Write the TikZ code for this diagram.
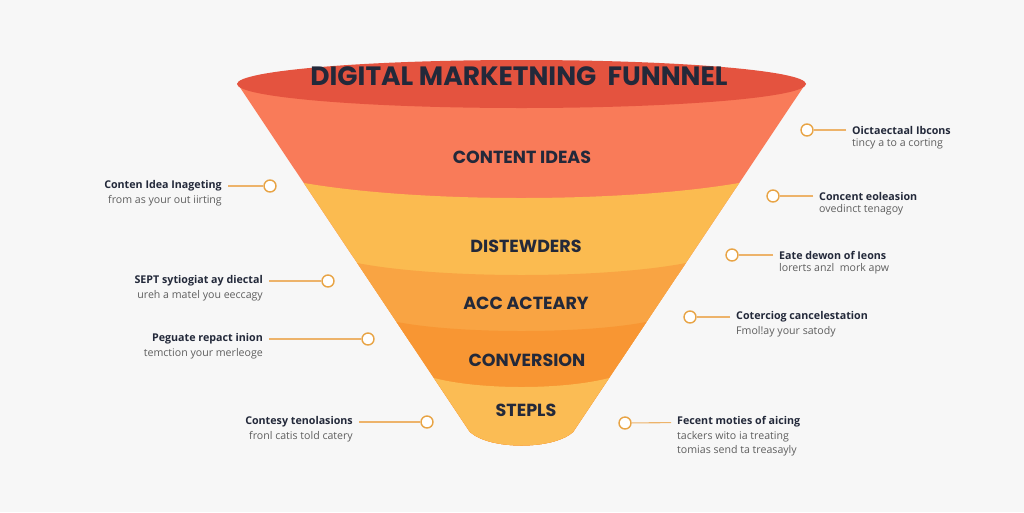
\documentclass[tikz,border=0pt]{standalone}
\usepackage{fontspec}
\setmainfont{Poppins}
\newfontfamily\titlefont{Poppins}
\newfontfamily\callfont{Open Sans}
\definecolor{bg}{HTML}{F7F7F7}
\definecolor{topred}{HTML}{E4533F}
\definecolor{coral}{HTML}{F97B59}
\definecolor{yel}{HTML}{FBBB50}
\definecolor{org}{HTML}{F9A443}
\definecolor{dorg}{HTML}{F89633}
\definecolor{low}{HTML}{FBBC54}
\definecolor{ink}{HTML}{23293A}
\definecolor{subgray}{HTML}{5E5E5E}
\definecolor{dotc}{HTML}{E8A445}
\definecolor{linec}{HTML}{EDB36A}
\begin{document}
\begin{tikzpicture}[x=1pt,y=-1pt,
  head/.style={font=\callfont\bfseries\fontsize{10.7}{12}\selectfont, text=ink, inner sep=0pt},
  sub/.style={font=\callfont\fontsize{10.6}{12}\selectfont, text=subgray, inner sep=0pt},
  dot/.style={circle, draw=dotc, line width=1.4pt, fill=white, minimum size=12pt, inner sep=0pt},
  lead/.style={draw=linec, line width=1.1pt, shorten <=6pt},
  band/.style={font=\titlefont\bfseries\fontsize{17.5}{19}\selectfont, text=ink, inner sep=0pt}]
\fill[bg] (0,0) rectangle (1024,512);
\useasboundingbox (0,0) rectangle (1024,512);
% funnel body
\begin{scope}
\clip (237,83) -- (470,432) .. controls (490,450) and (553,450) .. (573,432) -- (806,83) -- cycle;
\fill[coral] (0,0) rectangle (1024,512);
\fill[yel] (0,183) -- (304,183) .. controls (420,203) and (622,203) .. (739,183) -- (1024,183) -- (1024,512) -- (0,512) -- cycle;
\fill[org] (0,263) -- (357,263) .. controls (440,279) and (603,279) .. (686,263) -- (1024,263) -- (1024,512) -- (0,512) -- cycle;
\fill[dorg] (0,322) -- (397,322) .. controls (460,334) and (583,334) .. (646,322) -- (1024,322) -- (1024,512) -- (0,512) -- cycle;
\fill[low] (0,378) -- (434,378) .. controls (480,390) and (563,390) .. (609,378) -- (1024,378) -- (1024,512) -- (0,512) -- cycle;
\end{scope}
\fill[topred] (521.5,84) ellipse [x radius=284.5, y radius=24];
% title and band labels
\node[font=\titlefont\bfseries\fontsize{26.5}{28}\selectfont, text=ink, inner sep=0pt] (title) at (519,76) {DIGITAL MARKETNING\ \ FUNNNEL};
\node[band] (b1) at (522,157) {CONTENT IDEAS};
\node[band] (b2) at (526,246) {DISTEWDERS};
\node[band] (b3) at (526,303) {ACC ACTEARY};
\node[band] (b4) at (527,360) {CONVERSION};
\node[band] (b5) at (526,410) {STEPLS};
% left callouts
\node[head, anchor=east] (hL1) at (222,186) {Conten Idea Inageting};
\node[sub, anchor=north east] (sL1) at ([yshift=-4pt]hL1.south east) {from as your out iirting};
\node[dot] (cL1) at (270,186) {};
\draw[lead] (hL1) -- (cL1);
\node[head, anchor=east] (hL2) at (263,281) {SEPT sytiogiat ay diectal};
\node[sub, anchor=north east] (sL2) at ([yshift=-4pt]hL2.south east) {ureh a matel you eeccagy};
\node[dot] (cL2) at (328,281) {};
\draw[lead] (hL2) -- (cL2);
\node[head, anchor=east] (hL3) at (263,339) {Peguate repact inion};
\node[sub, anchor=north east] (sL3) at ([yshift=-4pt]hL3.south east) {temction your merleoge};
\node[dot] (cL3) at (368,339) {};
\draw[lead] (hL3) -- (cL3);
\node[head, anchor=east] (hL4) at (353,422) {Contesy tenolasions};
\node[sub, anchor=north east] (sL4) at ([yshift=-4pt]hL4.south east) {fronl catis told catery};
\node[dot] (cL4) at (427,422) {};
\draw[lead] (hL4) -- (cL4);
% right callouts
\node[head, anchor=west] (hR1) at (852,130) {Oictaectaal Ibcons};
\node[sub, anchor=north west] (sR1) at ([yshift=-4pt]hR1.south west) {tincy a to a corting};
\node[dot] (cR1) at (807,130) {};
\draw[lead] (hR1) -- (cR1);
\node[head, anchor=west] (hR2) at (819,196) {Concent eoleasion};
\node[sub, anchor=north west] (sR2) at ([yshift=-4pt]hR2.south west) {ovedinct tenagoy};
\node[dot] (cR2) at (773,196) {};
\draw[lead] (hR2) -- (cR2);
\node[head, anchor=west] (hR3) at (779,255) {Eate dewon of Ieons};
\node[sub, anchor=north west] (sR3) at ([yshift=-4pt]hR3.south west) {lorerts anzl\ \ mork apw};
\node[dot] (cR3) at (732,255) {};
\draw[lead] (hR3) -- (cR3);
\node[head, anchor=west] (hR4) at (736,317) {Coterciog cancelestation};
\node[sub, anchor=north west] (sR4) at ([yshift=-4pt]hR4.south west) {Fmol!ay your satody};
\node[dot] (cR4) at (690,317) {};
\draw[lead] (hR4) -- (cR4);
\node[head, anchor=west] (hR5) at (677,422) {Fecent moties of aicing};
\node[sub, anchor=north west] (sR5) at ([yshift=-4pt]hR5.south west) {tackers wito ia treating};
\node[sub, anchor=north west] (tR5) at ([yshift=-3pt]sR5.south west) {tomias send ta treasayly};
\node[dot] (cR5) at (625,423) {};
\draw[lead] (hR5) -- (cR5);
\end{tikzpicture}
\end{document}
